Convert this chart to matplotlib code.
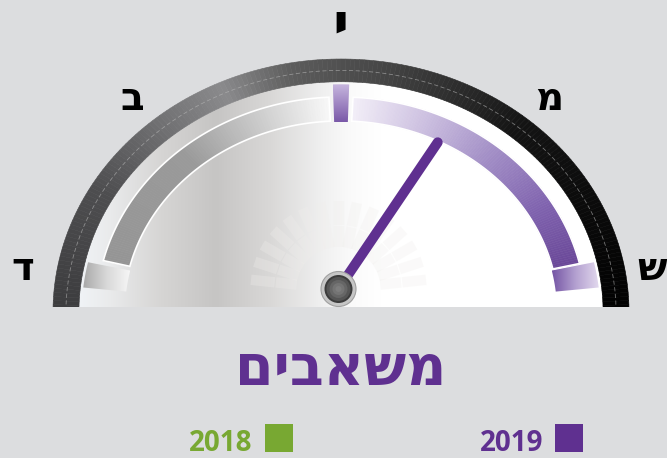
import numpy as np
import matplotlib
matplotlib.use("Agg")
import matplotlib.pyplot as plt
from matplotlib.patches import Polygon, Circle, Rectangle
from matplotlib.colors import LinearSegmentedColormap, to_rgb

# data
categories = ["ד", "ב", "י", "מ", "ש"]
years = ["2018", "2019"]
year_colors = ["#78a832", "#5f3090"]
needle_values = [None, 2.66]     # 2018 has no needle in the source picture
title = "משאבים"

BG = "#dcdddf"
FONT = ["Open Sans", "DejaVu Sans"]

# gauge geometry (pixel space)
CX, CY, RX, RY = 341, 312, 288, 253
BASE_Y = 307
HUB = (338.5, 289)
A0, STEP = 170.6, 40.3


def heb(s):
    # matplotlib has no bidi support, so reverse for right-to-left display
    return s[::-1]


def ang(v):
    return A0 - STEP * v


def pt(theta, rho):
    t = np.radians(theta)
    return CX + RX * rho * np.cos(t), CY - RY * rho * np.sin(t)


def sector(t0, t1, r0, r1, n=40):
    t = np.linspace(t0, t1, n)
    xo, yo = pt(t, r1)
    xi, yi = pt(t[::-1], r0)
    return np.column_stack([np.r_[xo, xi], np.r_[yo, yi]])


def angle_gradient(ax, t0, t1, r0, r1, angs, cols, n=120, z=3):
    rgb = np.array([to_rgb(c) for c in cols])
    edges = np.linspace(t0, t1, n + 1)
    order = np.argsort(angs)
    a = np.array(angs)[order]
    for i in range(n):
        mid = (edges[i] + edges[i + 1]) / 2
        c = [np.interp(mid, a, rgb[order, k]) for k in range(3)]
        ax.add_patch(Polygon(sector(edges[i], edges[i + 1], r0, r1, 4),
                             facecolor=c, edgecolor=c, lw=0.4, zorder=z))


def grad_fill(ax, verts, stops, vertical=False, z=2):
    poly = Polygon(verts, closed=True, facecolor="none", edgecolor="none")
    ax.add_patch(poly)
    x0, y0 = verts.min(0)
    x1, y1 = verts.max(0)
    cmap = LinearSegmentedColormap.from_list("g", stops)
    g = np.linspace(0, 1, 256)
    arr = g[:, None] if vertical else g[None, :]
    im = ax.imshow(arr, cmap=cmap, extent=(x0, x1, y1, y0), aspect="auto",
                   origin="upper", zorder=z, interpolation="bilinear")
    im.set_clip_path(poly)


fig = plt.figure(figsize=(6.67, 4.58), dpi=100, facecolor=BG)
ax = fig.add_axes([0, 0, 1, 1])
ax.set_facecolor(BG)

# face
face = sector(-3, 183, 0, 0.91, 200)
fx0, fx1 = face[:, 0].min(), face[:, 0].max()
face_x = [fx0, 110, 160, 215, 270, 320, 350, 380, fx1]
face_c = ["#f0f3f6", "#e9eaeb", "#d6d5d4", "#c6c5c4", "#d9d8d7",
          "#efefef", "#fafafa", "#ffffff", "#ffffff"]
grad_fill(ax, face, [((x - fx0) / (fx1 - fx0), c) for x, c in zip(face_x, face_c)])

# outer ring
angle_gradient(ax, -3, 183, 0.91, 1.0,
               [183, 150, 115, 100, 80, 50, -3],
               ["#3a3a3c", "#4e4e50", "#8a8a8c", "#5c5c5c", "#444444", "#141414", "#000000"],
               n=200, z=3)
tl = np.linspace(-3, 183, 300)
ax.plot(*pt(tl, 0.955), color="#b8b8b8", lw=0.6, dashes=(5, 3), alpha=0.6, zorder=4)

# faint radial bars round the hub
for a in np.arange(174, -1, -12):
    t = np.radians(a)
    for r0, r1 in [(42, 63), (64, 88)]:
        ax.plot([HUB[0] + r0 * np.cos(t), HUB[0] + r1 * np.cos(t)],
                [HUB[1] - r0 * np.sin(t), HUB[1] - r1 * np.sin(t)],
                color="#f0eeec", lw=7.5, alpha=0.3, solid_capstyle="butt", zorder=2.5)

# bands
angle_gradient(ax, ang(0.11), ang(1.93), 0.755, 0.85,
               [ang(0.11), 131, 112, ang(1.93)],
               ["#959595", "#9a9a9a", "#c8c8c8", "#f8f8f8"], z=3)
angle_gradient(ax, ang(2.07), ang(3.91), 0.755, 0.85,
               [ang(2.07), 70, 50, 30, ang(3.91)],
               ["#f3eff8", "#cfc3e2", "#a28ec6", "#7f62ae", "#6a4898"], z=3)
for lo, hi in [(0.11, 1.93), (2.07, 3.91)]:
    ax.add_patch(Polygon(sector(ang(lo), ang(hi), 0.755, 0.85, 80), closed=True,
                         facecolor="none", edgecolor="white", lw=1.2, zorder=3.5))

# tick wedges at ends and middle
grad_fill(ax, sector(ang(-0.08), ang(0.08), 0.75, 0.9, 10),
          ["#a8a8a8", "#d8d8d8", "#f6f6f6"], z=3)
grad_fill(ax, sector(ang(1.955), ang(2.045), 0.75, 0.9, 10),
          ["#c9b9e0", "#7a58a8"], vertical=True, z=3)
grad_fill(ax, sector(ang(3.92), ang(4.08), 0.75, 0.9, 10),
          ["#7454a4", "#b3a0d0", "#e2d9ee"], z=3)

# cover below the base line
ax.add_patch(Rectangle((0, BASE_Y), 667, 458 - BASE_Y, facecolor=BG, edgecolor="none", zorder=5))

# category labels (the small yod is drawn larger, as in the source)
label_size = {"י": 40}
for i, c in enumerate(categories):
    lx, ly = pt(ang(i), 1.12)
    lx = min(max(lx, 16), 652)   # keep the end letters inside the picture
    ax.annotate(c, xy=(lx, ly), xytext=(0, -10), textcoords="offset points",
                ha="center", va="baseline", fontsize=label_size.get(c, 28),
                fontweight="bold", family=FONT, color="black", zorder=8)

# needle + hub
for v, col in zip(needle_values, year_colors):
    if v is None:
        continue
    tx, ty = pt(ang(v), 0.75)
    ax.plot([HUB[0], tx], [HUB[1], ty], color=col, lw=7.2,
            solid_capstyle="round", zorder=6)

ax.add_patch(Circle(HUB, 17.5, facecolor="#c6c6c6", edgecolor="#a0a0a0", lw=0.8, zorder=7))
ax.add_patch(Circle(HUB, 14, facecolor="#3c3c3c", edgecolor="none", zorder=7))
for r, c in [(12, "#555555"), (9, "#666666"), (6, "#747474"), (3, "#7e7e7e")]:
    ax.add_patch(Circle(HUB, r, facecolor=c, edgecolor="none", zorder=7))

# title
ax.text(341, 385, heb(title), ha="center", va="baseline", fontsize=40,
        fontweight="semibold", family=FONT, color="#5f3090", zorder=8)

# legend
for yr, col, tx_right, sq_left in zip(years, year_colors, [252, 543], [265, 555]):
    ax.add_patch(Rectangle((sq_left, 424), 28, 28, facecolor=col, edgecolor="none", zorder=8))
    ax.text(tx_right, 451, yr, ha="right", va="baseline", fontsize=20,
            fontweight="bold", family=FONT, color=col, zorder=8)

ax.set_xlim(0, 667)
ax.set_ylim(458, 0)
ax.axis("off")
fig.savefig("out.png", dpi=100, facecolor=BG)
